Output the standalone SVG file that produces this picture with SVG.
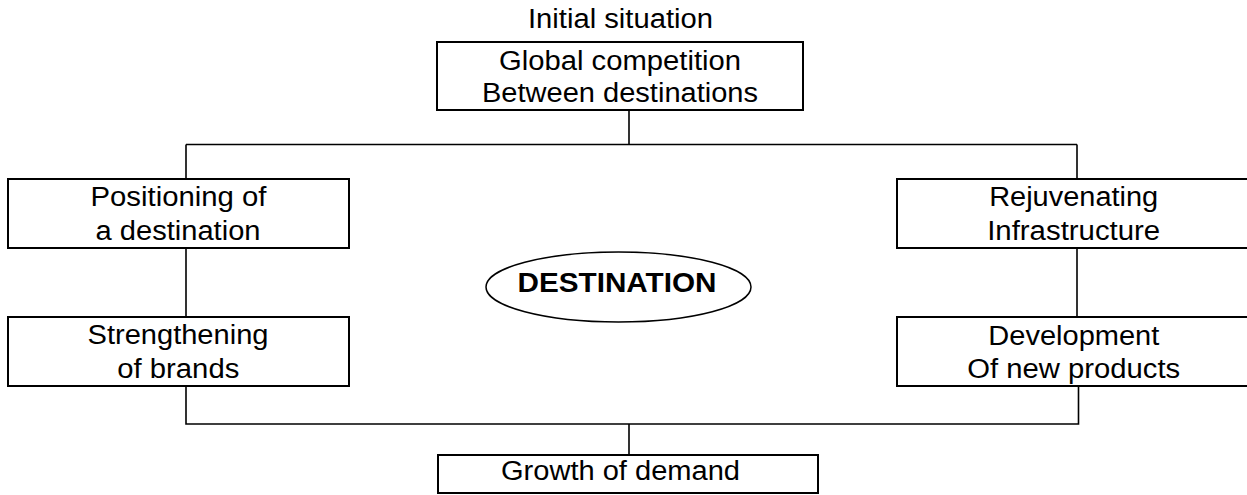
<svg xmlns="http://www.w3.org/2000/svg" width="1247" height="495" viewBox="0 0 1247 495">
  <style>
    .box { fill: #ffffff; stroke: #000000; stroke-width: 2; }
    .oval { fill: #ffffff; stroke: #000000; stroke-width: 1.5; }
    .wire { fill: none; stroke: #000000; stroke-width: 1.6; }
    .lbl { font-family: "Liberation Sans", Arial, sans-serif; font-size: 27px; fill: #000000; text-anchor: middle; }
    .bold { font-weight: bold; }
  </style>
  <rect width="1247" height="495" fill="#ffffff"/>

  <!-- connectors -->
  <g id="connectors">
    <path class="wire" d="M629,110 V144.5 M186,144.5 H1077 M186,144.5 V179 M1077,144.5 V179"/>
    <path class="wire" d="M186,248 V317 M1077,248 V317"/>
    <path class="wire" d="M186,386 V424 H1078.5 V386 M629,424 V455"/>
  </g>

  <g id="title">
    <text class="lbl" x="620.5" y="28" textLength="185" lengthAdjust="spacingAndGlyphs">Initial situation</text>
  </g>

  <g id="global-competition">
    <rect class="box" x="437" y="42" width="366" height="68"/>
    <text class="lbl" x="620" y="70" textLength="242" lengthAdjust="spacingAndGlyphs">Global competition</text>
    <text class="lbl" x="620" y="102" textLength="276" lengthAdjust="spacingAndGlyphs">Between destinations</text>
  </g>

  <g id="positioning">
    <rect class="box" x="8" y="179" width="341" height="69"/>
    <text class="lbl" x="178.5" y="206" textLength="176" lengthAdjust="spacingAndGlyphs">Positioning of</text>
    <text class="lbl" x="178" y="240" textLength="165" lengthAdjust="spacingAndGlyphs">a destination</text>
  </g>

  <g id="brands">
    <rect class="box" x="8" y="317" width="341" height="69"/>
    <text class="lbl" x="178" y="344" textLength="181" lengthAdjust="spacingAndGlyphs">Strengthening</text>
    <text class="lbl" x="178.3" y="378" textLength="122" lengthAdjust="spacingAndGlyphs">of brands</text>
  </g>

  <g id="infrastructure">
    <rect class="box" x="897" y="179" width="360" height="69"/>
    <text class="lbl" x="1073.7" y="206" textLength="169" lengthAdjust="spacingAndGlyphs">Rejuvenating</text>
    <text class="lbl" x="1073.7" y="240" textLength="173" lengthAdjust="spacingAndGlyphs">Infrastructure</text>
  </g>

  <g id="new-products">
    <rect class="box" x="897" y="317" width="360" height="69"/>
    <text class="lbl" x="1073.8" y="345" textLength="171" lengthAdjust="spacingAndGlyphs">Development</text>
    <text class="lbl" x="1073.7" y="378" textLength="213" lengthAdjust="spacingAndGlyphs">Of new products</text>
  </g>

  <g id="destination">
    <ellipse class="oval" cx="618.5" cy="287" rx="132.5" ry="35"/>
    <text class="lbl bold" x="617" y="292" textLength="199" lengthAdjust="spacingAndGlyphs">DESTINATION</text>
  </g>

  <g id="demand">
    <rect class="box" x="438" y="455" width="380" height="38"/>
    <text class="lbl" x="620.5" y="480" textLength="239" lengthAdjust="spacingAndGlyphs">Growth of demand</text>
  </g>
</svg>
